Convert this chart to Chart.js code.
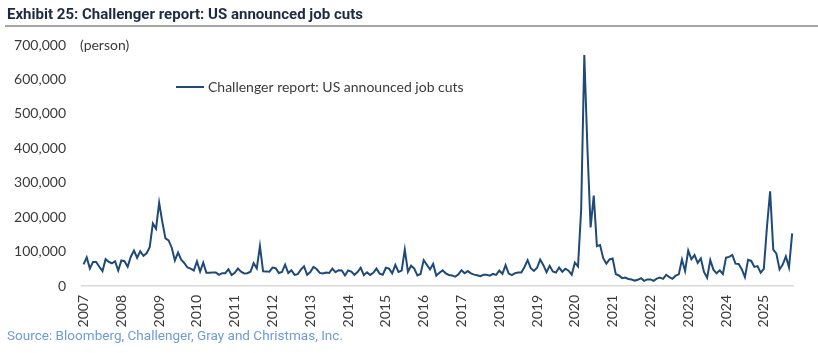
<!DOCTYPE html>
<html>
<head>
<meta charset="utf-8">
<script src="https://cdn.jsdelivr.net/npm/chart.js@4.4.1/dist/chart.umd.min.js"></script>
<style>
  html, body { margin: 0; padding: 0; background: #fff; }
  #wrap { position: relative; width: 818px; height: 353px; overflow: hidden; }
  canvas { position: absolute; left: 0; top: 0; }
  #title { position: absolute; left: 7px; top: 5px; font: bold 15px Roboto, sans-serif; color: #1e2a44; white-space: nowrap; transform-origin: left center; }
  #rule { position: absolute; left: 5px; top: 25px; width: 813px; height: 2px; background: #a6a6a6; }
  #source { position: absolute; left: 7px; top: 328px; font: 13px Roboto, sans-serif; color: #6f9bd8; white-space: nowrap; transform-origin: left center; }
</style>
</head>
<body>
<div id="wrap">
  <canvas id="c" width="818" height="353"></canvas>
  <div id="title">Exhibit 25: Challenger report: US announced job cuts</div>
  <div id="rule"></div>
  <div id="source">Source: Bloomberg, Challenger, Gray and Christmas, Inc.</div>
</div>
<script>
// ---- data (monthly announced job cuts, persons) ----
const seriesName = "Challenger report: US announced job cuts";
const unitLabel = "(person)";
const monthNames = ["Jan","Feb","Mar","Apr","May","Jun","Jul","Aug","Sep","Oct","Nov","Dec"];
const tickYears = ["2007","2008","2009","2010","2011","2012","2013","2014","2015","2016","2017","2018","2019","2020","2021","2022","2023","2024","2025"];

const cuts2007 = [63000, 83000, 51000, 70000, 70000, 56000, 43000, 78000, 70000, 66000, 72000, 45000];
const cuts2008 = [74000, 72000, 56000, 85000, 103000, 82000, 101000, 88000, 95000, 112884, 181671, 166348];
const cuts2009 = [241749, 186350, 138250, 132590, 111182, 74393, 97373, 76456, 66404, 53721, 50349, 45094];
const cuts2010 = [71482, 42090, 67611, 38691, 38810, 39358, 38919, 32239, 37151, 37151, 48711, 32004];
const cuts2011 = [38519, 50702, 41528, 36490, 37135, 41432, 66414, 51114, 115730, 42759, 42474, 41601];
const cuts2012 = [53486, 51728, 37880, 40559, 61887, 37551, 45817, 32239, 34392, 47724, 57081, 32556];
const cuts2013 = [40430, 55356, 49255, 38121, 36398, 39372, 37701, 50462, 40289, 45730, 45314, 30623];
const cuts2014 = [45107, 41835, 32573, 40298, 52961, 31434, 39612, 32188, 38430, 50462, 35940, 32640];
const cuts2015 = [53041, 50579, 36594, 61582, 41034, 44842, 105696, 41186, 58877, 50504, 30953, 35039];
const cuts2016 = [75114, 61599, 48207, 64141, 30157, 38536, 45346, 36836, 32188, 30740, 26936, 33627];
const cuts2017 = [45934, 36957, 43310, 36602, 33092, 31105, 28307, 32337, 32346, 30038, 35038, 32423];
const cuts2018 = [44653, 35369, 60357, 36081, 31517, 37202, 38913, 39115, 55285, 75000, 51855, 43884];
const cuts2019 = [52988, 76835, 60587, 40023, 58577, 41977, 38845, 53480, 41557, 50275, 44569, 32843];
const cuts2020 = [67735, 56660, 222288, 671129, 397016, 170219, 262649, 115762, 118804, 80666, 64797, 77030];
const cuts2021 = [79552, 34531, 30603, 22913, 24586, 20476, 18942, 15723, 17895, 22822, 14875, 19052];
const cuts2022 = [19064, 15245, 21387, 24286, 20712, 32517, 25810, 20835, 29989, 33843, 76835, 43651];
const cuts2023 = [102943, 77770, 89703, 66995, 80089, 40709, 23697, 75151, 47457, 36836, 45510, 34817];
const cuts2024 = [82307, 84638, 90309, 64789, 63816, 48786, 25885, 75891, 72821, 55597, 57727, 38792];
const cuts2025 = [49795, 172017, 275240, 105441, 93816, 47999, 62075, 85979, 54064, 153074];

const yearlyCuts = [cuts2007, cuts2008, cuts2009, cuts2010, cuts2011, cuts2012, cuts2013, cuts2014, cuts2015, cuts2016,
                    cuts2017, cuts2018, cuts2019, cuts2020, cuts2021, cuts2022, cuts2023, cuts2024, cuts2025];

const categories = [];
const values = [];
yearlyCuts.forEach((arr, yi) => {
  arr.forEach((v, mi) => {
    categories.push(monthNames[mi] + " " + tickYears[yi]);
    values.push(v);
  });
});

const lineColor = "#1f4a78";
const axisFont = { family: "Lato, 'Open Sans', sans-serif", size: 14 };
const textColor = "#3a3a3a";

const extras = {
  id: "extras",
  afterDraw(chart) {
    const ctx = chart.ctx;
    const a = chart.chartArea;
    ctx.save();
    ctx.font = "14px Lato, 'Open Sans', sans-serif";
    ctx.fillStyle = textColor;
    ctx.textBaseline = "middle";
    ctx.textAlign = "left";
    ctx.fillText(unitLabel, a.left - 2, a.top);
    // legend
    const ly = a.top + 42;
    const lx = a.left + 94;
    ctx.strokeStyle = lineColor;
    ctx.lineWidth = 2;
    ctx.beginPath();
    ctx.moveTo(lx, ly);
    ctx.lineTo(lx + 28, ly);
    ctx.stroke();
    ctx.font = "14px Lato, 'Open Sans', sans-serif";
    ctx.fillText(seriesName, lx + 32, ly);
    ctx.restore();
  }
};

new Chart(document.getElementById("c"), {
  type: "line",
  data: {
    labels: categories,
    datasets: [{
      label: seriesName,
      data: values,
      borderColor: lineColor,
      borderWidth: 2,
      pointRadius: 0,
      tension: 0,
      fill: false
    }]
  },
  options: {
    responsive: false,
    animation: false,
    devicePixelRatio: 1,
    layout: { padding: { left: 0, right: 18, top: 45, bottom: 0 } },
    plugins: { legend: { display: false }, tooltip: { enabled: false }, title: { display: false } },
    scales: {
      x: {
        type: "category",
        offset: true,
        grid: { display: false, drawTicks: false },
        border: { display: true, color: "#d9d9d9", width: 1.5 },
        ticks: {
          autoSkip: false,
          minRotation: 90,
          maxRotation: 90,
          padding: 9,
          color: textColor,
          font: axisFont,
          callback: function (val, i) {
            return i % 12 === 0 ? tickYears[i / 12] : "";
          }
        },
        afterFit: s => { s.height = 67; }
      },
      y: {
        min: 0,
        max: 700000,
        grid: { display: false, drawTicks: false },
        border: { display: false },
        ticks: {
          stepSize: 100000,
          padding: 16,
          color: textColor,
          font: axisFont,
          callback: v => v.toLocaleString("en-US")
        },
        afterFit: s => { s.width = 82; }
      }
    }
  },
  plugins: [extras]
});

function fitWidth(id, target) {
  const el = document.getElementById(id);
  const w = el.getBoundingClientRect().width;
  if (w > 0) el.style.transform = "scaleX(" + (target / w) + ")";
}
fitWidth("title", 356);
fitWidth("source", 336);
</script>
</body>
</html>
